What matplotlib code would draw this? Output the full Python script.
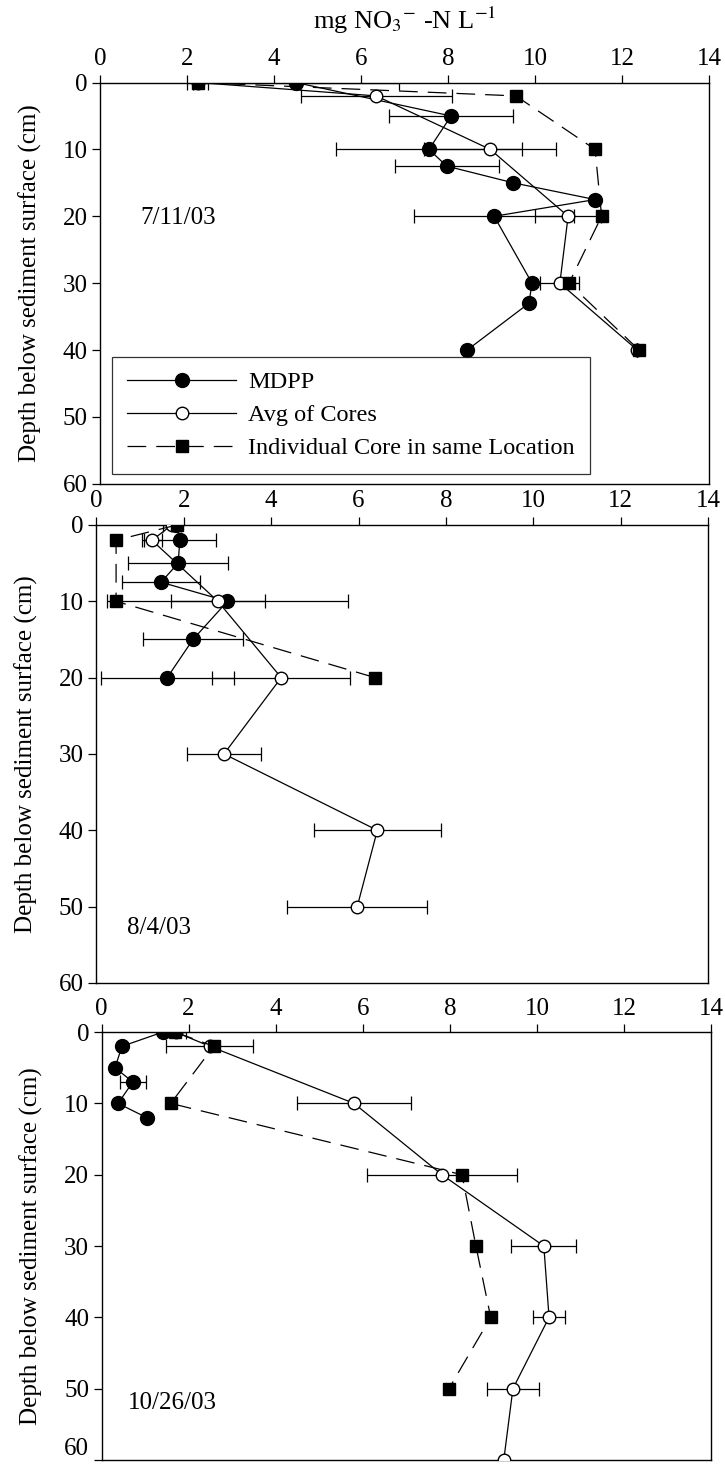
import matplotlib
matplotlib.use('Agg')
import matplotlib.pyplot as plt

plt.rcParams['font.family'] = ['Liberation Serif', 'DejaVu Serif']
plt.rcParams['mathtext.fontset'] = 'stix'

# 7/11/03
p1_mdpp_depth = [0, 5, 10, 12.5, 15, 17.5, 20, 30, 33, 40]
p1_mdpp_conc = [4.5, 8.07, 7.56, 7.97, 9.5, 11.38, 9.06, 9.93, 9.86, 8.44]
p1_mdpp_err = [2.37, 1.43, 2.13, 1.2, 0, 0, 1.84, 0, 0, 0]
p1_avg_depth = [0, 2, 10, 20, 30, 40]
p1_avg_conc = [2.25, 6.35, 8.97, 10.76, 10.57, 12.35]
p1_avg_err = [0.24, 1.73, 1.52, 0.76, 0.45, 0]
p1_core_depth = [0, 2, 10, 20, 30, 40]
p1_core_conc = [2.25, 9.56, 11.38, 11.53, 10.78, 12.39]

# 8/4/03
p2_mdpp_depth = [0, 2, 5, 7.5, 10, 15, 20]
p2_mdpp_conc = [1.82, 1.91, 1.87, 1.48, 3.0, 2.21, 1.62]
p2_mdpp_err = [0, 0.83, 1.15, 0.9, 2.75, 1.15, 1.52]
p2_avg_depth = [0, 2, 10, 20, 30, 40, 50]
p2_avg_conc = [1.73, 1.27, 2.78, 4.23, 2.92, 6.43, 5.97]
p2_avg_err = [0.2, 0.22, 1.08, 1.58, 0.85, 1.45, 1.6]
p2_core_depth = [0, 2, 10, 20]
p2_core_conc = [1.84, 0.45, 0.45, 6.38]

# 10/26/03
p3_mdpp_depth = [0, 2, 5, 7, 10, 12]
p3_mdpp_conc = [1.41, 0.47, 0.31, 0.72, 0.38, 1.04]
p3_mdpp_err = [0, 0, 0, 0.3, 0, 0]
p3_avg_depth = [0, 2, 10, 20, 30, 40, 50, 60]
p3_avg_conc = [1.7, 2.49, 5.8, 7.82, 10.16, 10.28, 9.45, 9.24]
p3_avg_err = [0.25, 1.0, 1.3, 1.72, 0.75, 0.37, 0.6, 0]
p3_core_depth = [0, 2, 10, 20, 30, 40, 50]
p3_core_conc = [1.69, 2.58, 1.59, 8.28, 8.6, 8.94, 7.98]

dates = ['7/11/03', '8/4/03', '10/26/03']
date_pos = [(0.92, 20.2), (0.7, 52.8), (0.6, 52.0)]
xticks = [0, 2, 4, 6, 8, 10, 12, 14]
yticks = [0, 10, 20, 30, 40, 50, 60]

fs = 18
fig = plt.figure(figsize=(7.25, 14.66), dpi=100)
boxes = [[0.138, 0.670, 0.840, 0.2737],
         [0.133, 0.3295, 0.8436, 0.3124],
         [0.140, 0.0041, 0.8407, 0.2919]]

panels = [
    (p1_mdpp_depth, p1_mdpp_conc, p1_mdpp_err, p1_avg_depth, p1_avg_conc, p1_avg_err, p1_core_depth, p1_core_conc),
    (p2_mdpp_depth, p2_mdpp_conc, p2_mdpp_err, p2_avg_depth, p2_avg_conc, p2_avg_err, p2_core_depth, p2_core_conc),
    (p3_mdpp_depth, p3_mdpp_conc, p3_mdpp_err, p3_avg_depth, p3_avg_conc, p3_avg_err, p3_core_depth, p3_core_conc),
]

for i, (md, mc, me, ad, ac, ae, cd, cc) in enumerate(panels):
    ax = fig.add_axes(boxes[i])
    ax.errorbar(mc, md, xerr=me, fmt='none', ecolor='black', elinewidth=0.9, capsize=5, capthick=0.9, zorder=2)
    ax.errorbar(ac, ad, xerr=ae, fmt='none', ecolor='black', elinewidth=0.9, capsize=5, capthick=0.9, zorder=2)
    l1, = ax.plot(mc, md, color='black', lw=0.9, marker='o', ms=10, mfc='black', mec='black', zorder=3,
                  label='MDPP')
    l2, = ax.plot(ac, ad, color='black', lw=0.9, marker='o', ms=9, mfc='white', mec='black', mew=1, zorder=4,
                  label='Avg of Cores')
    l3, = ax.plot(cc, cd, color='black', lw=0.9, ls=(0, (15, 8)), marker='s', ms=8, mfc='black', mec='black',
                  zorder=5, label='Individual Core in same Location')
    ax.set_xlim(0, 14)
    ax.set_ylim(60, 0)
    ax.set_xticks(xticks)
    ax.set_yticks(yticks)
    ax.xaxis.tick_top()
    ax.tick_params(direction='out', length=6, width=0.9, labelsize=fs, pad=3)
    for s in ax.spines.values():
        s.set_linewidth(1.0)
    ax.set_ylabel('Depth below sediment surface (cm)', fontsize=fs, labelpad=15)
    ax.text(date_pos[i][0], date_pos[i][1], dates[i], fontsize=fs, va='center', ha='left')
    if i == 0:
        ax.set_xlabel('mg NO$_3$$^{\\mathsf{-}}$ -N L$^{-1}$', fontsize=fs + 1, labelpad=14)
        ax.xaxis.set_label_position('top')
        leg = ax.legend(handles=[l1, l2, l3], loc='lower left', bbox_to_anchor=(0.02, 0.025),
                        fontsize=17.5, frameon=True, fancybox=False, edgecolor='black',
                        handlelength=4.5, handletextpad=0.5, borderpad=0.6, labelspacing=0.45,
                        borderaxespad=0)
        leg.get_frame().set_linewidth(0.9)
    if i == 2:
        # keep the bottom tick label inside the canvas
        ax.get_yticklabels()[-1].set_va('bottom')

fig.savefig('out.png', dpi=100)
